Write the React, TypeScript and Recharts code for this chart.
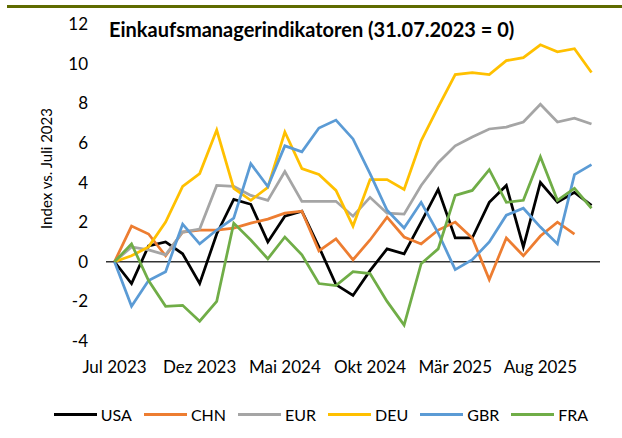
import React from 'react';
import { LineChart, Line, XAxis, YAxis, ReferenceLine } from 'recharts';

const months = [
  'Jul 2023', 'Aug 2023', 'Sep 2023', 'Okt 2023', 'Nov 2023', 'Dez 2023',
  'Jan 2024', 'Feb 2024', 'Mär 2024', 'Apr 2024', 'Mai 2024', 'Jun 2024',
  'Jul 2024', 'Aug 2024', 'Sep 2024', 'Okt 2024', 'Nov 2024', 'Dez 2024',
  'Jan 2025', 'Feb 2025', 'Mär 2025', 'Apr 2025', 'Mai 2025', 'Jun 2025',
  'Jul 2025', 'Aug 2025', 'Sep 2025', 'Okt 2025', 'Nov 2025',
];

const usa = [0, -1.1, 0.8, 1.0, 0.4, -1.1, 1.4, 3.15, 2.9, 1.0, 2.3, 2.55, 0.75, -1.15, -1.7, -0.45, 0.65, 0.4, 2.0, 3.65, 1.2, 1.2, 3.0, 3.85, 0.75, 4.0, 3.0, 3.5, 2.85];
const chn = [0, 1.8, 1.4, 0.3, 1.5, 1.6, 1.6, 1.7, 1.95, 2.15, 2.45, 2.55, 0.55, 1.15, 0.1, 1.1, 2.25, 1.25, 0.9, 1.6, 2.0, 1.2, -0.9, 1.2, 0.3, 1.3, 2.0, 1.4, null];
const eur = [0, 0.75, 0.6, 0.35, 1.5, 1.65, 3.85, 3.8, 3.35, 3.1, 4.55, 3.05, 3.05, 3.05, 2.3, 3.25, 2.45, 2.4, 3.85, 5.0, 5.85, 6.3, 6.7, 6.8, 7.05, 7.95, 7.05, 7.25, 6.95];
const deu = [0, 0.3, 0.75, 2.0, 3.8, 4.45, 6.65, 3.7, 3.1, 3.75, 6.55, 4.7, 4.4, 3.6, 1.8, 4.15, 4.15, 3.65, 6.1, 7.8, 9.45, 9.55, 9.45, 10.15, 10.3, 10.95, 10.6, 10.75, 9.55];
const gbr = [0, -2.25, -0.95, -0.5, 1.9, 0.9, 1.6, 2.2, 4.95, 3.8, 5.85, 5.55, 6.75, 7.15, 6.2, 4.45, 2.6, 1.7, 3.0, 1.45, -0.4, 0.1, 1.0, 2.35, 2.7, 1.75, 0.9, 4.4, 4.9];
const fra = [0, 0.9, -0.95, -2.25, -2.2, -3.0, -2.0, 1.95, 1.1, 0.15, 1.25, 0.35, -1.1, -1.2, -0.5, -0.6, -2.0, -3.2, -0.1, 0.65, 3.35, 3.6, 4.65, 3.0, 3.1, 5.3, 3.1, 3.7, 2.7];

const yTicks = [-4, -2, 0, 2, 4, 6, 8, 10, 12];

const series = [
  { key: 'USA', values: usa, color: '#000000' },
  { key: 'CHN', values: chn, color: '#ED7D31' },
  { key: 'EUR', values: eur, color: '#A5A5A5' },
  { key: 'DEU', values: deu, color: '#FFC000' },
  { key: 'GBR', values: gbr, color: '#5B9BD5' },
  { key: 'FRA', values: fra, color: '#70AD47' },
];

const data = months.map((m, i) => {
  const row: Record<string, string | number | null> = { month: m };
  series.forEach(s => { row[s.key] = s.values[i]; });
  return row;
});

const font = 'Lato, "Open Sans", sans-serif';

const App: React.FC = () => {
  return (
    <div style={{ position: 'absolute', left: 0, top: 0, width: 622, height: 438, background: '#fff', fontFamily: font }}>
      <div style={{ position: 'absolute', left: 7, top: 5, width: 615, height: 3, background: '#5f6b00' }} />
      <LineChart width={622} height={438} data={data} margin={{ top: 24, right: 22, bottom: 67, left: 0 }}>
        <XAxis
          dataKey="month"
          scale="point"
          padding={{ left: 8.5, right: 8.5 }}
          interval={4}
          axisLine={false}
          tickLine={false}
          tickSize={0}
          tickMargin={20}
          height={30}
          tick={{ fill: '#000', fontSize: 17, fontFamily: font }}
        />
        <YAxis
          domain={[-4, 12]}
          ticks={yTicks}
          width={106}
          axisLine={false}
          tickLine={false}
          tickSize={0}
          tickMargin={18}
          tick={{ fill: '#000', fontSize: 17, fontFamily: font }}
          label={{ value: 'Index vs. Juli 2023', angle: -90, position: 'insideLeft', dx: 42, dy: -14, style: { textAnchor: 'middle', fill: '#000', fontSize: 15, fontFamily: font } }}
        />
        <ReferenceLine y={0} stroke="#333" strokeWidth={1.5} />
        {series.map(s => (
          <Line
            key={s.key}
            type="linear"
            dataKey={s.key}
            stroke={s.color}
            strokeWidth={2.75}
            dot={false}
            isAnimationActive={false}
          />
        ))}
        <text x={109} y={30} dy="0.35em" fontSize={20} fontWeight="bold" fontFamily={font} fill="#000">
          Einkaufsmanagerindikatoren (31.07.2023 = 0)
        </text>
      </LineChart>
      <div style={{ position: 'absolute', top: 405, left: 10, width: 622, display: 'flex', justifyContent: 'center', fontSize: 16, gap: 12 }}>
        {series.map(s => (
          <div key={s.key} style={{ display: 'flex', alignItems: 'center' }}>
            <div style={{ width: 43, height: 3, background: s.color, marginRight: 4 }} />
            <span>{s.key}</span>
          </div>
        ))}
      </div>
    </div>
  );
};

export default App;
